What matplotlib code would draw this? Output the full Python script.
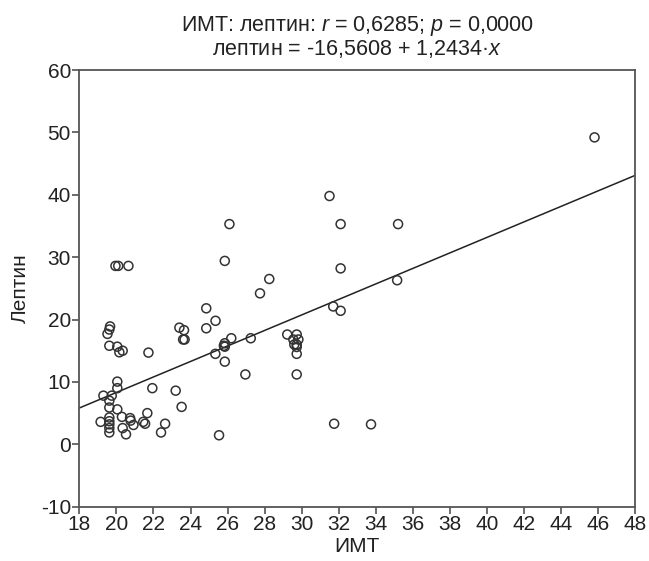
import matplotlib
matplotlib.use("Agg")
import matplotlib.pyplot as plt
import numpy as np

plt.rcParams['font.family'] = ['Liberation Sans', 'DejaVu Sans']
plt.rcParams['mathtext.fontset'] = 'custom'
plt.rcParams['mathtext.rm'] = 'Liberation Sans'
plt.rcParams['mathtext.it'] = 'Liberation Sans:italic'
plt.rcParams['axes.unicode_minus'] = False

# Data
bmi = [45.8, 31.5, 32.1, 35.2, 26.1, 25.85, 19.95, 20.1, 20.65, 28.25, 35.15, 32.1,
       27.75, 24.85, 31.7, 32.1, 25.35, 24.85, 23.4, 23.65, 19.66, 19.62, 19.52,
       23.6, 23.68, 26.2, 27.25, 25.85, 25.85, 25.8,
       29.22, 29.73, 29.55, 29.82, 29.6, 29.73, 29.73, 29.73, 29.73,
       25.34, 25.85, 26.96, 19.62, 20.05, 20.16, 20.34, 21.73, 20.05, 20.05,
       21.94, 23.2, 23.52, 19.3, 19.75, 19.62, 19.62, 20.05, 19.15,
       19.62, 19.62, 19.62, 19.62, 19.62, 20.3, 20.74, 20.77, 20.34, 20.52,
       20.92, 21.45, 21.55, 21.67, 22.63, 22.41, 25.54, 31.75, 33.74]
leptin = [49.2, 39.8, 35.3, 35.3, 35.3, 29.4, 28.6, 28.6, 28.6, 26.5, 26.3, 28.2,
          24.2, 21.8, 22.1, 21.4, 19.8, 18.6, 18.7, 18.3, 18.9, 18.4, 17.7,
          16.8, 16.8, 17.0, 17.0, 16.2, 15.65, 15.8,
          17.6, 17.6, 16.8, 16.8, 16.0, 16.0, 15.6, 14.5, 11.2,
          14.5, 13.25, 11.2, 15.8, 15.65, 14.75, 15.0, 14.7, 10.05, 9.0,
          9.0, 8.6, 6.0, 7.8, 7.8, 7.0, 5.9, 5.6, 3.6,
          4.3, 3.7, 3.2, 2.6, 1.9, 4.4, 4.2, 3.8, 2.6, 1.6,
          3.1, 3.6, 3.3, 5.0, 3.3, 1.9, 1.45, 3.3, 3.2]
intercept = -16.5608
slope = 1.2434
x_ticks = list(range(18, 49, 2))
y_ticks = list(range(-10, 61, 10))

fig = plt.figure(figsize=(6.49, 5.61), dpi=100)
ax = fig.add_axes([0.1222, 0.0968, 0.9789 - 0.1222, 0.8752 - 0.0968])

edge = '#333333'
ax.scatter(bmi, leptin, s=42, facecolors='none', edgecolors=edge, linewidths=1.1, zorder=3)

xl = np.array([18, 48])
ax.plot(xl, intercept + slope * xl, color='#222222', lw=1.1, zorder=2)

ax.set_xlim(18, 48)
ax.set_ylim(-10, 60)
ax.set_xticks(x_ticks)
ax.set_yticks(y_ticks)
ax.tick_params(direction='out', length=5, width=1.1, color='#444444',
               labelsize=15, labelcolor='#222222', pad=1)
for sp in ax.spines.values():
    sp.set_color('#555555')
    sp.set_linewidth(1.3)

ax.set_xlabel('ИМТ', fontsize=15, color='#222222', labelpad=2)
ax.set_ylabel('Лептин', fontsize=15, color='#222222', labelpad=8)
ax.set_title('ИМТ: лептин: $\\mathit{r}$ = 0,6285; $\\mathit{p}$ = 0,0000\n'
             'лептин = -16,5608 + 1,2434·$\\mathit{x}$',
             fontsize=15.5, color='#222222', pad=11, linespacing=1.0)

fig.savefig('out.png', dpi=100)
